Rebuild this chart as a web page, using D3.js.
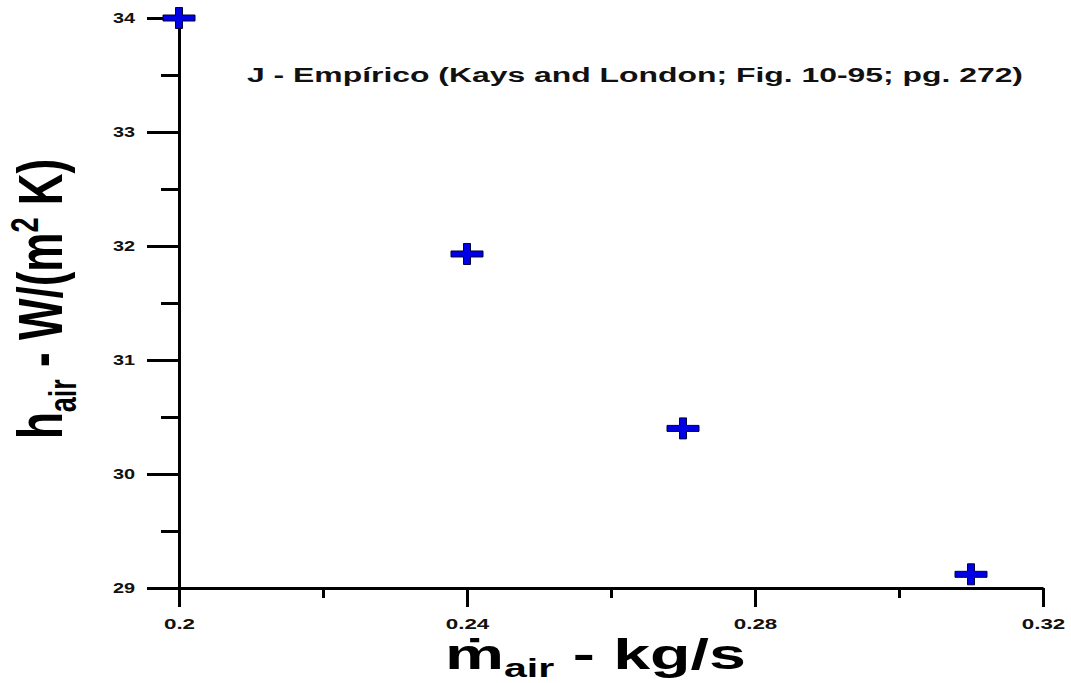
<!DOCTYPE html>
<html>
<head>
<meta charset="utf-8">
<script src="https://cdn.jsdelivr.net/npm/d3@7"></script>
<style>
  html, body { margin: 0; padding: 0; background: #ffffff; }
  svg { display: block; }
  text { font-family: "Liberation Sans", Arial, sans-serif; font-weight: bold; }
</style>
</head>
<body>
<svg id="chart" width="1071" height="683"></svg>
<script>
// ---- data ----
const massFlow = [0.20, 0.24, 0.27, 0.31];          // kg/s
const hAir = [34.00, 31.93, 30.40, 29.12];           // W/(m2 K)
const xTickValues = [0.20, 0.24, 0.28, 0.32];
const xTickLabels = ["0.2", "0.24", "0.28", "0.32"];
const xMinorTicks = [0.22, 0.26, 0.30];
const yTickValues = [29, 30, 31, 32, 33, 34];
const yTickLabels = ["29", "30", "31", "32", "33", "34"];
const yMinorTicks = [29.5, 30.5, 31.5, 32.5, 33.5];
const titleText = "J - Empírico (Kays and London; Fig. 10-95; pg. 272)";

// ---- layout ----
const svg = d3.select("#chart");
const x0 = 179, x1 = 1043, yTop = 18, yBot = 588;
const stretch = 1.42;

const x = d3.scaleLinear().domain([0.20, 0.32]).range([x0, x1]);
const y = d3.scaleLinear().domain([29, 34]).range([yBot, yTop]);

// minor ticks
const gx = svg.append("g").attr("transform", `translate(0,${yBot})`);
gx.call(d3.axisBottom(x).tickValues(xMinorTicks).tickSize(10).tickFormat(""));
const gy = svg.append("g").attr("transform", `translate(${x0},0)`);
gy.call(d3.axisLeft(y).tickValues(yMinorTicks).tickSize(18).tickFormat(""));

// major axes
const ax = svg.append("g").attr("transform", `translate(0,${yBot})`)
  .call(d3.axisBottom(x).tickValues(xTickValues).tickSize(19).tickSizeOuter(0)
    .tickPadding(12).tickFormat((d, i) => xTickLabels[i]));
const ay = svg.append("g").attr("transform", `translate(${x0},0)`)
  .call(d3.axisLeft(y).tickValues(yTickValues).tickSize(32).tickSizeOuter(0)
    .tickPadding(12).tickFormat((d, i) => yTickLabels[i]));

svg.selectAll(".domain, .tick line").attr("stroke", "#000").attr("stroke-width", 3);
gx.selectAll(".domain").remove();
gy.selectAll(".domain").remove();

ax.selectAll(".tick text")
  .attr("font-size", 14).attr("font-family", "Liberation Sans, Arial, sans-serif")
  .attr("font-weight", "bold").attr("fill", "#111")
  .attr("transform", "scale(1.6,1)");
ay.selectAll(".tick text")
  .attr("font-size", 14).attr("font-family", "Liberation Sans, Arial, sans-serif")
  .attr("font-weight", "bold").attr("fill", "#111")
  .each(function () {
    const t = d3.select(this);
    const tx = +t.attr("x");
    t.attr("transform", `translate(${tx},0) scale(${stretch},1) translate(${-tx},0)`);
  });

// ---- markers (plus) ----
const hw = 16, hh = 10.5, th = 3;    // half width, half height, half thickness
const plusPath = `M${-hw},${-th}H${-th - 0.5}V${-hh}H${th + 0.5}V${-th}H${hw}V${th}H${th + 0.5}V${hh}H${-th - 0.5}V${th}H${-hw}Z`;
svg.append("g").selectAll("path.pt")
  .data(massFlow.map((m, i) => ({ m, h: hAir[i] })))
  .join("path")
  .attr("class", "pt")
  .attr("transform", d => `translate(${x(d.m)},${y(d.h)})`)
  .attr("d", plusPath)
  .attr("fill", "#0000e6")
  .attr("stroke", "#00003a")
  .attr("stroke-width", 1);

// ---- title ----
svg.append("text")
  .attr("x", 247).attr("y", 82)
  .attr("font-size", 19.5).attr("fill", "#111")
  .attr("textLength", 776).attr("lengthAdjust", "spacingAndGlyphs")
  .text(titleText);

// ---- x axis label ----
const xl = svg.append("text")
  .attr("x", 0).attr("y", 0)
  .attr("font-size", 42).attr("fill", "#000")
  .attr("transform", `translate(445,669) scale(1.58,1)`);
xl.append("tspan").text("ṁ");
xl.append("tspan").attr("font-size", 26).attr("dy", 8).text("air");
xl.append("tspan").attr("dy", -8).text(" - kg/s");

// ---- y axis label ----
const yl = svg.append("text")
  .attr("font-size", 44).attr("fill", "#000")
  .attr("text-anchor", "middle")
  .attr("transform", `translate(62,299) scale(${stretch},1) rotate(-90)`);
yl.append("tspan").text("h");
yl.append("tspan").attr("font-size", 27).attr("dy", 10).text("air");
yl.append("tspan").attr("dy", -10).text(" - W/(m");
yl.append("tspan").attr("font-size", 27).attr("dy", -17).text("2");
yl.append("tspan").attr("dy", 17).text(" K)");
</script>
</body>
</html>
